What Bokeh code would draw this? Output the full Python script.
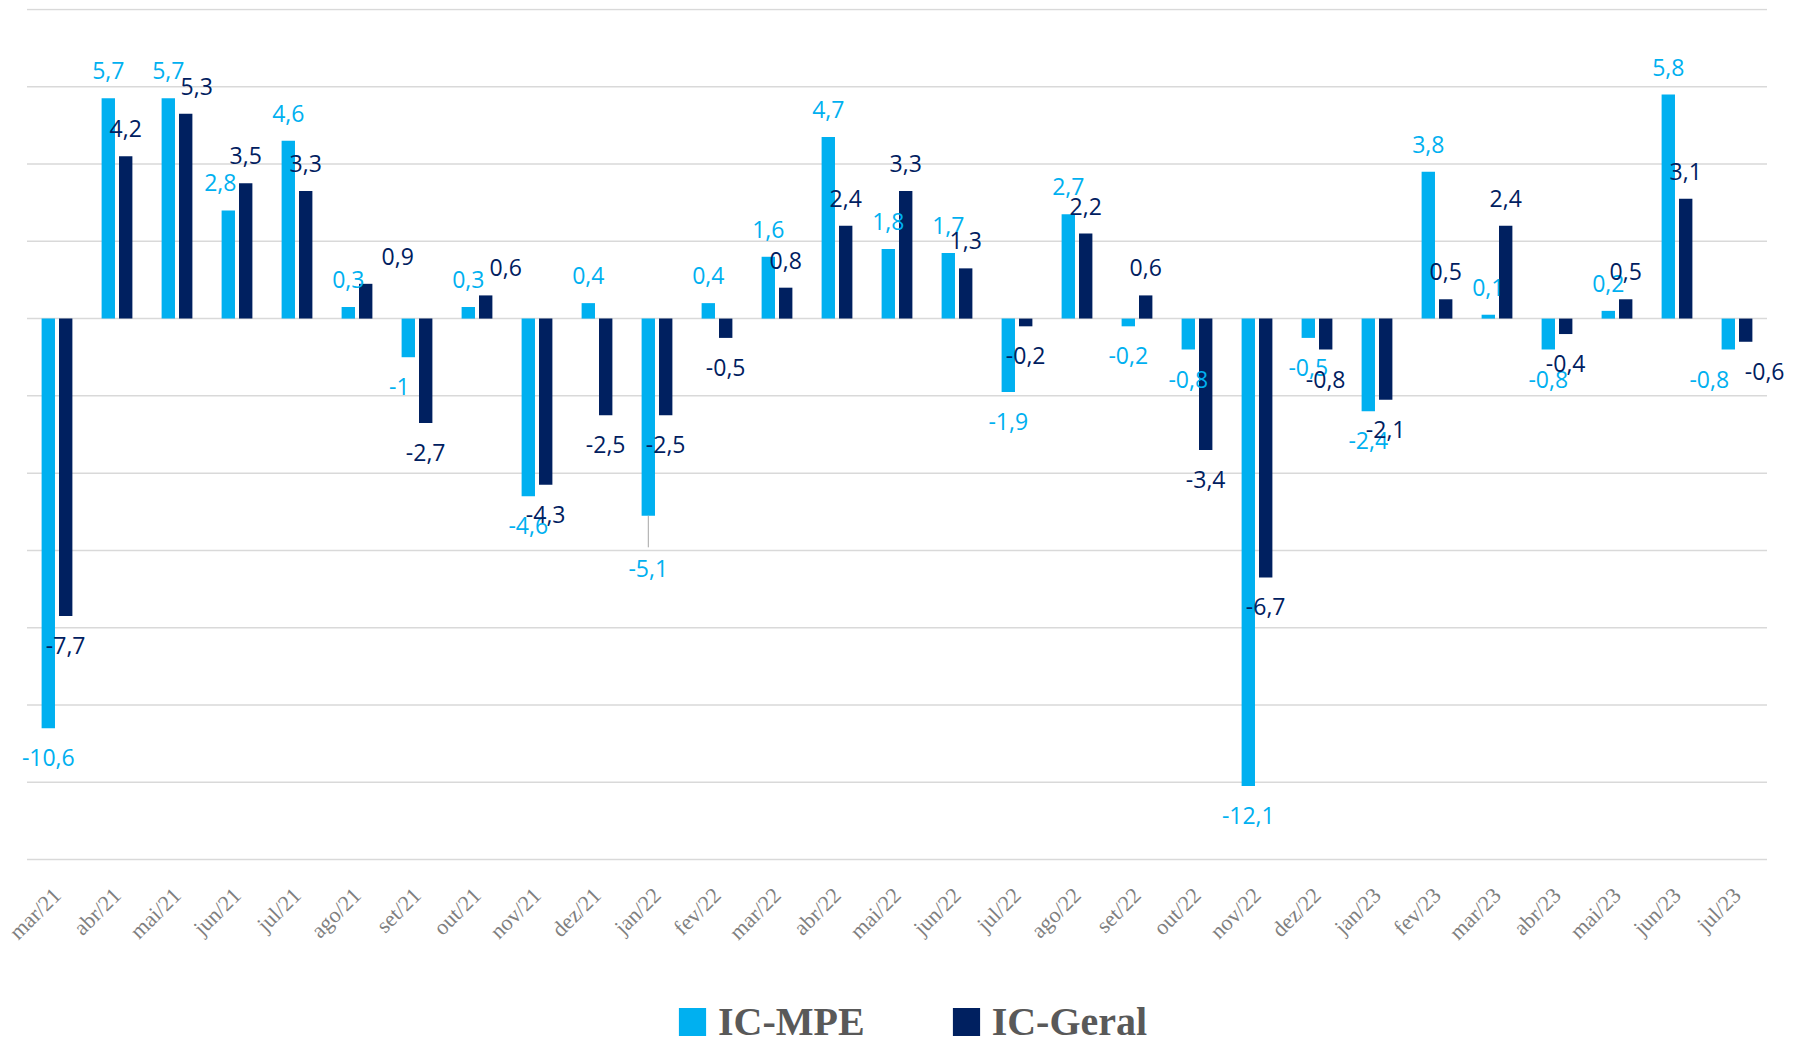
import math
from bokeh.plotting import figure
from bokeh.models import (ColumnDataSource, FactorRange, Range1d, Grid,
                          LabelSet, Legend, LegendItem)
from bokeh.core.properties import value
from bokeh.transform import dodge
from bokeh.embed import file_html
from bokeh.resources import INLINE

# ---- data ----
months = ["mar/21", "abr/21", "mai/21", "jun/21", "jul/21", "ago/21", "set/21", "out/21",
          "nov/21", "dez/21", "jan/22", "fev/22", "mar/22", "abr/22", "mai/22", "jun/22",
          "jul/22", "ago/22", "set/22", "out/22", "nov/22", "dez/22", "jan/23", "fev/23",
          "mar/23", "abr/23", "mai/23", "jun/23", "jul/23"]
ic_mpe = [-10.6, 5.7, 5.7, 2.8, 4.6, 0.3, -1.0, 0.3, -4.6, 0.4, -5.1, 0.4, 1.6, 4.7, 1.8,
          1.7, -1.9, 2.7, -0.2, -0.8, -12.1, -0.5, -2.4, 3.8, 0.1, -0.8, 0.2, 5.8, -0.8]
ic_geral = [-7.7, 4.2, 5.3, 3.5, 3.3, 0.9, -2.7, 0.6, -4.3, -2.5, -2.5, -0.5, 0.8, 2.4, 3.3,
            1.3, -0.2, 2.2, 0.6, -3.4, -6.7, -0.8, -2.1, 0.5, 2.4, -0.4, 0.5, 3.1, -0.6]
series_names = ["IC-MPE", "IC-Geral"]
y_ticks = list(range(-14, 9, 2))

# label nudges (screen px) where the original labels were moved by hand
mpe_label_dx = {"jun/21": -8, "set/21": -9, "jul/23": -19}
geral_label_dx = {"mai/21": 11, "ago/21": 32, "out/21": 20, "jul/23": 19}
mpe_label_dy = {"jan/22": -23}

LIGHT = "#00B0F0"
DARK = "#002060"
GRID = "#d9d9d9"
OFF = 0.145
BW = 0.223

# layout (px)
W, H = 1793, 1045
TOP = 8
SIDE_PX = 26.5             # empty margin left/right of the category area
CAT_PX = (W - 2 * SIDE_PX) / len(months)
GRID_PX = 850              # height covered by the gridlines
BELOW_PX = H - TOP - 1 - GRID_PX   # room under the last gridline for labels/legend
ppu = GRID_PX / (y_ticks[-1] - y_ticks[0])


def fmt(v):
    return f"{v:g}".replace(".", ",")


def label_cols(vals, dx, dy):
    yo = [(19 if v >= 0 else -38) + dy.get(m, 0) for m, v in zip(months, vals)]
    xo = [dx.get(m, 0) for m in months]
    return [fmt(v) for v in vals], xo, yo


mpe_txt, mpe_xo, mpe_yo = label_cols(ic_mpe, mpe_label_dx, mpe_label_dy)
ger_txt, ger_xo, ger_yo = label_cols(ic_geral, geral_label_dx, {})

src = ColumnDataSource(dict(m=months, mpe=ic_mpe, geral=ic_geral,
                            mpe_txt=mpe_txt, mpe_xo=mpe_xo, mpe_yo=mpe_yo,
                            ger_txt=ger_txt, ger_xo=ger_xo, ger_yo=ger_yo))

pad_units = SIDE_PX / CAT_PX
p = figure(x_range=FactorRange(factors=months, range_padding=2 * pad_units / len(months),
                               range_padding_units="percent"),
           y_range=Range1d(y_ticks[0] - BELOW_PX / ppu, y_ticks[-1] + 1 / ppu),
           width=W, height=H, output_backend="svg", toolbar_location=None,
           y_axis_location=None, min_border_left=0, min_border_right=0,
           min_border_top=TOP, min_border_bottom=0)
p.outline_line_color = None
for g in p.center:
    if isinstance(g, Grid):
        g.grid_line_color = None

# horizontal gridlines spanning only the category area
gsrc = ColumnDataSource(dict(a=[months[0]] * len(y_ticks), b=[months[-1]] * len(y_ticks),
                             y=y_ticks))
p.segment(x0=dodge("a", -0.5, range=p.x_range), x1=dodge("b", 0.5, range=p.x_range),
          y0="y", y1="y", source=gsrc, line_color=GRID, line_width=1.5)

r1 = p.vbar(x=dodge("m", -OFF, range=p.x_range), top="mpe", width=BW, source=src,
            fill_color=LIGHT, line_color=None)
r2 = p.vbar(x=dodge("m", OFF, range=p.x_range), top="geral", width=BW, source=src,
            fill_color=DARK, line_color=None)

# leader line for the displaced jan/22 label
li = months.index("jan/22")
lead = ColumnDataSource(dict(m=[months[li]], y0=[ic_mpe[li]], y1=[ic_mpe[li] - 0.82]))
p.segment(x0=dodge("m", -OFF, range=p.x_range), x1=dodge("m", -OFF, range=p.x_range),
          y0="y0", y1="y1", source=lead, line_color="#a6a6a6", line_width=1)

for col, txt, xo, yo, color, off in [("mpe", "mpe_txt", "mpe_xo", "mpe_yo", LIGHT, -OFF),
                                      ("geral", "ger_txt", "ger_xo", "ger_yo", DARK, OFF)]:
    p.add_layout(LabelSet(x=dodge("m", off, range=p.x_range), y=col, text=txt,
                          x_offset=xo, y_offset=yo, source=src,
                          text_align="center", text_baseline="alphabetic",
                          text_font=value("Open Sans"), text_font_size=value("23px"),
                          text_color=value(color)))

ax = p.xaxis[0]
ax.fixed_location = y_ticks[0]
ax.major_label_orientation = math.pi / 4
ax.axis_line_color = None
ax.major_tick_line_color = None
ax.minor_tick_line_color = None
ax.major_label_standoff = 26
ax.major_label_text_font = "Liberation Serif"
ax.major_label_text_font_size = "22px"
ax.major_label_text_color = "#7f7f7f"

legend = Legend(items=[LegendItem(label=series_names[0], renderers=[r1]),
                       LegendItem(label=series_names[1], renderers=[r2])],
                location=(675, 0), orientation="horizontal", spacing=84,
                glyph_width=34, glyph_height=35, label_standoff=9,
                margin=0, padding=0, border_line_color=None, background_fill_alpha=0,
                label_text_font="Liberation Serif", label_text_font_style="bold",
                label_text_font_size="40px", label_text_color="#595959")
p.add_layout(legend, "center")

open("out.html", "w").write(file_html(p, INLINE))
